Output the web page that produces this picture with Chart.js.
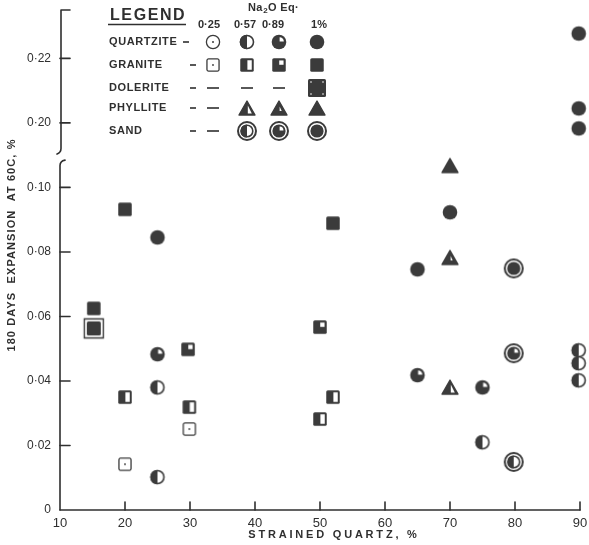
<!DOCTYPE html>
<html>
<head>
<meta charset="utf-8">
<script src="https://cdn.jsdelivr.net/npm/chart.js@4.4.1/dist/chart.umd.min.js"></script>
<style>
  html, body { margin: 0; padding: 0; background: #ffffff; }
  #wrap { width: 589px; height: 545px; position: relative; }
</style>
</head>
<body>
<div id="wrap"><canvas id="c"></canvas></div>
<script>
// ---------------- data ----------------
const xTickValues = [10, 20, 30, 40, 50, 60, 70, 80, 90];
const yTickValues = [0, 0.02, 0.04, 0.06, 0.08, 0.10, 0.20, 0.22];
const yTickLabels = ['0', '0·02', '0·04', '0·06', '0·08', '0·10', '0·20', '0·22'];
const na2oLevels = ['0·25', '0·57', '0·89', '1%'];
const rockTypes = ['QUARTZITE', 'GRANITE', 'DOLERITE', 'PHYLLITE', 'SAND'];
// which Na2O levels each rock type appears with (legend table)
const rockLevels = [
  [true, true, true, true],
  [true, true, true, true],
  [false, false, false, true],
  [false, true, true, true],
  [false, true, true, true]
];

// [strained quartz %, 180-day expansion %]
const quartzite057 = [[25, 0.0380], [25, 0.0102], [75, 0.0210], [89.8, 0.0495], [89.8, 0.0455], [89.8, 0.0402]];
const quartzite089 = [[25, 0.0483], [65, 0.0418], [75, 0.0380]];
const quartzite100 = [[25, 0.0845], [70, 0.0923], [65, 0.0746], [89.8, 0.2277], [89.8, 0.2045], [89.8, 0.1983]];
const granite025 = [[29.9, 0.0251], [20, 0.0142]];
const granite057 = [[20, 0.0350], [29.9, 0.0319], [52, 0.0350], [50, 0.0282]];
const granite089 = [[29.7, 0.0498], [50, 0.0567]];
const granite100 = [[15.2, 0.0625], [20, 0.0932], [52, 0.0889]];
const dolerite100 = [[15.2, 0.0563]];
const phyllite057 = [[70, 0.0381]];
const phyllite089 = [[70, 0.0783]];
const phyllite100 = [[70, 0.1068]];
const sand057 = [[79.8, 0.0149]];
const sand089 = [[79.8, 0.0486]];
const sand100 = [[79.8, 0.0749]];

// broken y axis: values above the break are drawn shifted down
const yBreakAbove = 0.15;
const yBreakShift = 0.08;
function mapY(v) { return v > yBreakAbove ? v - yBreakShift : v; }

// ---------------- styling ----------------
const INK = '#3b3b3b';
const LINE = '#2f2f2f';
const PAPER = '#ffffff';
const FONT = '"Liberation Sans", Arial, sans-serif';

function mk(w, h, fn) {
  const c = document.createElement('canvas');
  c.width = w; c.height = h;
  const g = c.getContext('2d');
  g.translate(w / 2, h / 2);
  fn(g);
  return c;
}

function paintCircle(g, cx, cy, r, level) {
  g.fillStyle = INK; g.strokeStyle = INK; g.lineWidth = 1.6;
  const full = () => { g.beginPath(); g.arc(cx, cy, r, 0, Math.PI * 2); };
  if (level === 3) {
    full(); g.fill();
  } else if (level === 2) {
    full(); g.fill();
    g.fillStyle = PAPER;
    g.beginPath(); g.moveTo(cx + 0.6, cy - 0.6);
    g.arc(cx + 0.6, cy - 0.6, r * 0.58, -Math.PI / 2, 0); g.closePath(); g.fill();
  } else if (level === 1) {
    full(); g.fillStyle = PAPER; g.fill();
    g.fillStyle = INK;
    g.beginPath(); g.arc(cx, cy, r, Math.PI / 2, Math.PI * 1.5); g.closePath(); g.fill();
    g.beginPath(); g.arc(cx, cy, r - 0.8, 0, Math.PI * 2); g.stroke();
  } else {
    full(); g.fillStyle = PAPER; g.fill();
    g.lineWidth = 1.3;
    g.beginPath(); g.arc(cx, cy, r - 0.7, 0, Math.PI * 2); g.stroke();
    g.fillStyle = INK; g.beginPath(); g.arc(cx, cy, 1, 0, Math.PI * 2); g.fill();
  }
}

function paintSquare(g, cx, cy, s, level) {
  const h = s / 2;
  g.fillStyle = INK; g.strokeStyle = INK; g.lineWidth = 1.5;
  const rr = () => { g.beginPath(); g.roundRect(cx - h, cy - h, s, s, 1.6); };
  if (level === 3) {
    rr(); g.fill();
  } else if (level === 2) {
    rr(); g.fill();
    const w = s * 0.32;
    g.fillStyle = PAPER; g.fillRect(cx + h - 2.2 - w, cy - h + 2.2, w, w);
  } else if (level === 1) {
    rr(); g.fill();
    g.fillStyle = PAPER; g.fillRect(cx + 0.4, cy - h + 2, h - 2.4, s - 4);
  } else {
    g.fillStyle = PAPER; rr(); g.fill();
    g.lineWidth = 1.3;
    g.beginPath(); g.roundRect(cx - h + 0.7, cy - h + 0.7, s - 1.4, s - 1.4, 1.6); g.stroke();
    g.fillStyle = INK; g.beginPath(); g.arc(cx, cy, 0.9, 0, Math.PI * 2); g.fill();
  }
}

function paintTriangle(g, cx, cy, w, h, level) {
  g.fillStyle = INK; g.strokeStyle = INK; g.lineWidth = 1.4; g.lineJoin = 'round';
  g.beginPath(); g.moveTo(cx, cy - h / 2); g.lineTo(cx + w / 2, cy + h / 2); g.lineTo(cx - w / 2, cy + h / 2); g.closePath();
  g.fill(); g.stroke();
  g.fillStyle = PAPER;
  if (level === 1) {
    g.beginPath(); g.moveTo(cx + 0.8, cy - h / 2 + 4.5); g.lineTo(cx + w / 2 - 3.2, cy + h / 2 - 1.6); g.lineTo(cx + 0.8, cy + h / 2 - 1.6); g.closePath(); g.fill();
  } else if (level === 2) {
    g.beginPath(); g.moveTo(cx + 0.6, cy - 1.5); g.lineTo(cx + 2.7, cy + 3); g.lineTo(cx + 0.6, cy + 3); g.closePath(); g.fill();
  }
}

function paintSand(g, cx, cy, level) {
  g.fillStyle = PAPER; g.beginPath(); g.arc(cx, cy, 9.8, 0, Math.PI * 2); g.fill();
  g.strokeStyle = INK; g.lineWidth = 2; g.beginPath(); g.arc(cx, cy, 9, 0, Math.PI * 2); g.stroke();
  paintCircle(g, cx, cy, 6.6, level);
}

function paintDolerite(g, cx, cy) {
  g.strokeStyle = INK; g.lineWidth = 1.4;
  g.beginPath(); g.rect(cx - 9.5, cy - 9.5, 19, 19); g.stroke();
  g.fillStyle = INK; g.beginPath(); g.roundRect(cx - 7, cy - 7, 14, 14, 1.5); g.fill();
}

function paintDoleriteLegend(g, cx, cy) {
  g.fillStyle = INK; g.beginPath(); g.roundRect(cx - 9, cy - 9, 18, 18, 1.5); g.fill();
  g.fillStyle = PAPER;
  [[-6, -6], [6, -6], [-6, 6], [6, 6]].forEach(([dx, dy]) => { g.beginPath(); g.arc(cx + dx, cy + dy, 0.8, 0, Math.PI * 2); g.fill(); });
}

function paintMarker(g, rock, level, legend) {
  if (rock === 0) paintCircle(g, 0, 0, 7.3, level);
  else if (rock === 1) paintSquare(g, 0, 0, 13.5, level);
  else if (rock === 2) (legend ? paintDoleriteLegend : paintDolerite)(g, 0, 0);
  else if (rock === 3) paintTriangle(g, 0, 0, 16, 14, level);
  else paintSand(g, 0, 0, level);
}
const markerCache = {};
function marker(rock, level, legend) {
  const key = rock + '_' + level + '_' + (legend ? 1 : 0);
  if (!markerCache[key]) markerCache[key] = mk(24, 24, g => paintMarker(g, rock, level, legend));
  return markerCache[key];
}

// rock index, Na2O level index, points
const seriesList = [
  [0, 1, quartzite057], [0, 2, quartzite089], [0, 3, quartzite100],
  [1, 0, granite025], [1, 1, granite057], [1, 2, granite089], [1, 3, granite100],
  [2, 3, dolerite100],
  [3, 1, phyllite057], [3, 2, phyllite089], [3, 3, phyllite100],
  [4, 1, sand057], [4, 2, sand089], [4, 3, sand100]
];

const datasets = seriesList.map(([rock, level, pts]) => ({
  label: rockTypes[rock] + ' ' + na2oLevels[level],
  data: pts.map(([x, y]) => ({ x: x, y: mapY(y) })),
  pointStyle: marker(rock, level, false),
  pointRadius: 8,
  pointHoverRadius: 8,
  showLine: false,
  clip: false
}));

function drawText(ctx, str, x, y, size, align, spacing, weight) {
  ctx.font = (weight || 'bold') + ' ' + size + 'px ' + FONT;
  ctx.letterSpacing = (spacing || 0) + 'px';
  ctx.textAlign = align || 'left';
  ctx.textBaseline = 'middle';
  ctx.fillStyle = LINE;
  ctx.fillText(str, x, y);
  ctx.letterSpacing = '0px';
}

const axesPlugin = {
  id: 'brokenAxes',
  beforeDatasetsDraw(chart) {
    const { ctx, scales: { x, y } } = chart;
    ctx.save();
    ctx.strokeStyle = LINE; ctx.lineWidth = 1.6; ctx.lineCap = 'round'; ctx.lineJoin = 'round';
    const ax = x.getPixelForValue(10);
    const by = y.getPixelForValue(0);
    // x axis
    ctx.beginPath(); ctx.moveTo(ax, by); ctx.lineTo(x.getPixelForValue(90), by); ctx.stroke();
    x.ticks.forEach(t => {
      if (t.value === 10) return;
      const px = x.getPixelForValue(t.value);
      ctx.beginPath(); ctx.moveTo(px, by); ctx.lineTo(px, by - 8); ctx.stroke();
    });
    // y ticks (inward)
    y.ticks.forEach(t => {
      if (t.value === 0) return;
      const py = y.getPixelForValue(t.value);
      ctx.beginPath(); ctx.moveTo(ax, py); ctx.lineTo(ax + 10, py); ctx.stroke();
    });
    // broken y axis
    const top = y.getPixelForValue(y.max);
    const yU = y.getPixelForValue(0.1108);
    const yL = y.getPixelForValue(0.1080);
    ctx.beginPath();
    ctx.moveTo(ax + 10, top); ctx.lineTo(ax + 1, top); ctx.lineTo(ax + 1, yU - 4);
    ctx.quadraticCurveTo(ax + 1, yU, ax - 3, yU + 1.5);
    ctx.stroke();
    ctx.beginPath();
    ctx.moveTo(ax + 5, yL - 1.5); ctx.quadraticCurveTo(ax, yL - 0.5, ax, yL + 4);
    ctx.lineTo(ax, by);
    ctx.stroke();
    ctx.restore();
  },
  afterDraw(chart) {
    const { ctx } = chart;
    ctx.save();
    // axis titles
    drawText(ctx, 'STRAINED QUARTZ, %', 334, 535, 11, 'center', 2.8);
    ctx.save();
    ctx.translate(12, 245); ctx.rotate(-Math.PI / 2);
    drawText(ctx, '180 DAYS  EXPANSION  AT 60C, %', 0, 0, 11, 'center', 1.1);
    ctx.restore();

    // legend
    drawText(ctx, 'LEGEND', 110, 16, 16, 'left', 1.6);
    ctx.strokeStyle = LINE; ctx.lineWidth = 1.6;
    ctx.beginPath(); ctx.moveTo(108, 24.5); ctx.lineTo(186, 24.5); ctx.stroke();
    // Na2O Eq.
    let nx = 248;
    drawText(ctx, 'Na', nx, 8, 11, 'left', 0.3);
    ctx.font = 'bold 11px ' + FONT; ctx.letterSpacing = '0.3px'; nx += ctx.measureText('Na').width + 0.5;
    drawText(ctx, '2', nx, 11, 8, 'left', 0);
    ctx.font = 'bold 8px ' + FONT; ctx.letterSpacing = '0px'; nx += ctx.measureText('2').width + 0.5;
    drawText(ctx, 'O Eq·', nx, 8, 11, 'left', 0.3);

    const headerX = [209, 245, 273, 319];
    na2oLevels.forEach((s, i) => drawText(ctx, s, headerX[i], 25, 11, 'center', 0));

    const rowY = [42, 65, 88, 108, 131];
    const colX = [213, 247, 279, 317];
    const dashX = [186, 193, 193, 193, 193];
    rockTypes.forEach((name, r) => {
      drawText(ctx, name, 109, rowY[r], 11, 'left', 0.6);
      ctx.strokeStyle = LINE; ctx.lineWidth = 1.6;
      ctx.beginPath(); ctx.moveTo(dashX[r] - 3, rowY[r]); ctx.lineTo(dashX[r] + 3, rowY[r]); ctx.stroke();
      rockLevels[r].forEach((has, c) => {
        if (has) {
          const img = marker(r, c, true);
          ctx.drawImage(img, colX[c] - img.width / 2, rowY[r] - img.height / 2);
        } else {
          ctx.beginPath(); ctx.moveTo(colX[c] - 6, rowY[r]); ctx.lineTo(colX[c] + 6, rowY[r]); ctx.stroke();
        }
      });
    });
    ctx.restore();
  }
};

new Chart(document.getElementById('c'), {
  type: 'scatter',
  data: { datasets: datasets },
  options: {
    responsive: true,
    maintainAspectRatio: false,
    animation: false,
    events: [],
    devicePixelRatio: 1,
    layout: { padding: { top: 10, right: 5, left: 0, bottom: 0 } },
    plugins: { legend: { display: false }, tooltip: { enabled: false } },
    scales: {
      x: {
        type: 'linear', min: 10, max: 90,
        afterBuildTicks: s => { s.ticks = xTickValues.map(v => ({ value: v })); },
        grid: { display: false, drawTicks: false },
        border: { display: false },
        ticks: {
          padding: 6, color: LINE, autoSkip: false, maxRotation: 0,
          font: { family: FONT, size: 13 },
          callback: v => String(v)
        },
        afterFit: s => { s.height = 35; s.paddingLeft = 0; s.paddingRight = 0; }
      },
      y: {
        type: 'linear', min: 0, max: 0.155,
        afterBuildTicks: s => { s.ticks = yTickValues.map(v => ({ value: mapY(v) })); },
        grid: { display: false, drawTicks: false },
        border: { display: false },
        ticks: {
          padding: 9, color: LINE, autoSkip: false,
          font: { family: FONT, size: 12 },
          callback: (v, i) => yTickLabels[i]
        },
        afterFit: s => { s.width = 60; s.paddingTop = 0; s.paddingBottom = 0; }
      }
    }
  },
  plugins: [axesPlugin]
});
</script>
</body>
</html>
